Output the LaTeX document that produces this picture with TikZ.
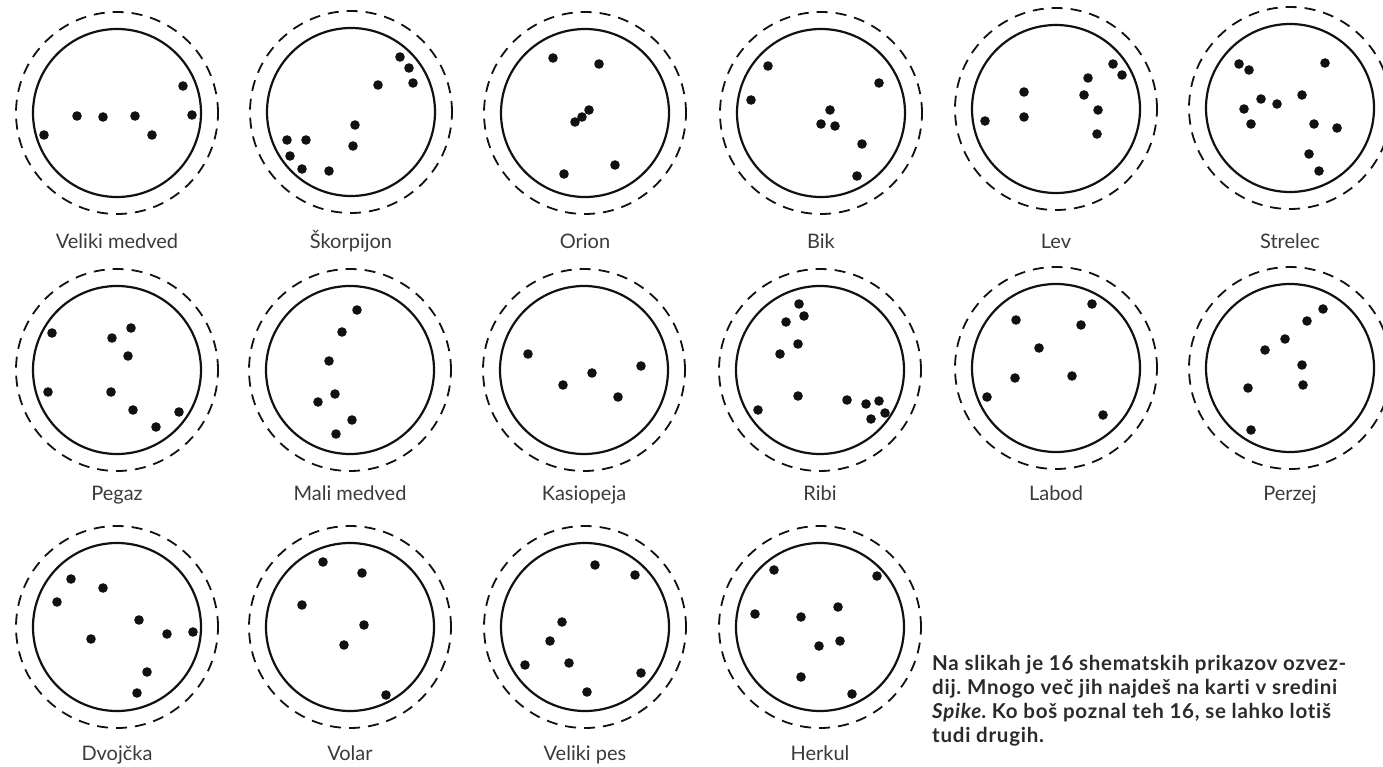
\documentclass[tikz,border=0pt]{standalone}
\usepackage{fontspec}
\setmainfont{Lato}
\newfontfamily\notefont[LetterSpace=3.6, Ligatures=NoCommon]{Lato}
\usepackage{tikz}
\usetikzlibrary{positioning}
\definecolor{inkblack}{HTML}{111111}
\definecolor{labelgrey}{HTML}{3a3a3a}
\definecolor{notegrey}{HTML}{2a2a2a}
\tikzset{
  ring/.style={circle, draw=inkblack, line width=2.2pt, minimum size=168pt,
               inner sep=0pt},
  halo/.style={circle, draw=inkblack, line width=1.8pt,
               dash pattern=on 11pt off 8pt, minimum size=202pt, inner sep=0pt},
  starname/.style={font=\fontsize{20}{24}\selectfont, text=labelgrey,
                   anchor=base, inner sep=0pt},
  stardot/.style={fill=inkblack},
  notetext/.style={font=\notefont\bfseries\fontsize{20.5}{24}\selectfont,
                   text=notegrey, align=left, anchor=north west, inner sep=0pt},
}
\def\dotr{4.8pt}
\frenchspacing

\begin{document}
\begin{tikzpicture}[x=1pt, y=-1pt]
  \useasboundingbox (0, 0) rectangle (1383, 767);
  \clip (0, 0) rectangle (1383, 767);

  % --- Row 1 ---
  \node[ring] (velmed) at (117, 113) {};
  \node[halo] at (velmed) {};
  \node[starname] (velmedl) at (117, 248) {Veliki medved};
  \foreach \x/\y in {44/135, 77/116, 103/117, 135/116, 152/135, 183/86, 192/115}
    \fill[stardot] (\x, \y) circle (\dotr);

  \node[ring] (skorp) at (351, 112) {};
  \node[halo] at (skorp) {};
  \node[starname] (skorpl) at (351, 248) {Škorpijon};
  \foreach \x/\y in {400/57, 409/68, 413/83, 378/85, 355/125, 353/146,
                     287/140, 306/140, 290/156, 302/169, 329/171}
    \fill[stardot] (\x, \y) circle (\dotr);

  \node[ring] (orion) at (585, 113) {};
  \node[halo] at (orion) {};
  \node[starname] (orionl) at (585, 248) {Orion};
  \foreach \x/\y in {553/58, 599/64, 589/110, 582/117, 575/122, 564/174, 615/165}
    \fill[stardot] (\x, \y) circle (\dotr);

  \node[ring] (bik) at (821, 113) {};
  \node[halo] at (bik) {};
  \node[starname] (bikl) at (821, 248) {Bik};
  \foreach \x/\y in {768/66, 751/100, 879/83, 830/110, 821/124, 835/126,
                     862/144, 857/176}
    \fill[stardot] (\x, \y) circle (\dotr);

  \node[ring] (lev) at (1056, 109) {};
  \node[halo] at (lev) {};
  \node[starname] (levl) at (1056, 248) {Lev};
  \foreach \x/\y in {1113/64, 1122/75, 1088/78, 1024/92, 1084/95, 1098/110,
                     1024/117, 985/121, 1097/134}
    \fill[stardot] (\x, \y) circle (\dotr);

  \node[ring] (strel) at (1290, 108) {};
  \node[halo] at (strel) {};
  \node[starname] (strell) at (1290, 248) {Strelec};
  \foreach \x/\y in {1239/64, 1249/70, 1325/63, 1302/95, 1261/99, 1277/104,
                     1244/109, 1251/124, 1314/124, 1337/128, 1309/154, 1319/171}
    \fill[stardot] (\x, \y) circle (\dotr);

  % --- Row 2 ---
  \node[ring] (pegaz) at (117, 370) {};
  \node[halo] at (pegaz) {};
  \node[starname] (pegazl) at (117, 500) {Pegaz};
  \foreach \x/\y in {52/333, 131/328, 112/338, 128/356, 48/392, 111/392,
                     133/410, 179/412, 156/427}
    \fill[stardot] (\x, \y) circle (\dotr);

  \node[ring] (malmed) at (350, 370) {};
  \node[halo] at (malmed) {};
  \node[starname] (malmedl) at (350, 500) {Mali medved};
  \foreach \x/\y in {357/310, 342/332, 329/361, 335/394, 318/402, 352/420, 336/434}
    \fill[stardot] (\x, \y) circle (\dotr);

  \node[ring] (kasio) at (584, 370) {};
  \node[halo] at (kasio) {};
  \node[starname] (kasiol) at (584, 500) {Kasiopeja};
  \foreach \x/\y in {528/354, 563/385, 592/373, 618/397, 641/366}
    \fill[stardot] (\x, \y) circle (\dotr);

  \node[ring] (ribi) at (820, 370) {};
  \node[halo] at (ribi) {};
  \node[starname] (ribil) at (820, 500) {Ribi};
  \foreach \x/\y in {799/304, 804/316, 786/322, 798/344, 780/354, 798/396,
                     758/410, 847/400, 866/404, 879/401, 885/413, 871/419}
    \fill[stardot] (\x, \y) circle (\dotr);

  \node[ring] (labod) at (1056, 368) {};
  \node[halo] at (labod) {};
  \node[starname] (labodl) at (1056, 500) {Labod};
  \foreach \x/\y in {1092/304, 1016/320, 1081/325, 1039/348, 1015/378,
                     1072/376, 987/397, 1103/415}
    \fill[stardot] (\x, \y) circle (\dotr);

  \node[ring] (perzej) at (1290, 368) {};
  \node[halo] at (perzej) {};
  \node[starname] (perzejl) at (1290, 500) {Perzej};
  \foreach \x/\y in {1323/309, 1307/321, 1285/339, 1265/350, 1302/365,
                     1303/385, 1248/388, 1251/430}
    \fill[stardot] (\x, \y) circle (\dotr);

  % --- Row 3 ---
  \node[ring] (dvoj) at (117, 627) {};
  \node[halo] at (dvoj) {};
  \node[starname] (dvojl) at (117, 760) {Dvojčka};
  \foreach \x/\y in {71/579, 103/588, 57/602, 139/620, 167/634, 193/632,
                     91/639, 147/672, 137/693}
    \fill[stardot] (\x, \y) circle (\dotr);

  \node[ring] (volar) at (350, 627) {};
  \node[halo] at (volar) {};
  \node[starname] (volarl) at (350, 760) {Volar};
  \foreach \x/\y in {323/562, 362/573, 302/605, 364/625, 344/645, 386/695}
    \fill[stardot] (\x, \y) circle (\dotr);

  \node[ring] (velpes) at (585, 627) {};
  \node[halo] at (velpes) {};
  \node[starname] (velpesl) at (585, 760) {Veliki pes};
  \foreach \x/\y in {595/565, 635/575, 562/622, 550/641, 569/663, 525/665,
                     641/673, 587/692}
    \fill[stardot] (\x, \y) circle (\dotr);

  \node[ring] (herkul) at (820, 627) {};
  \node[halo] at (herkul) {};
  \node[starname] (herkull) at (820, 760) {Herkul};
  \foreach \x/\y in {774/570, 877/576, 838/607, 755/614, 801/617, 840/641,
                     819/646, 801/677, 852/694}
    \fill[stardot] (\x, \y) circle (\dotr);

  % --- Note ---
  \node[notetext] (note) at (932, 655)
    {Na slikah je 16 shematskih prikazov ozvez-\\
     dij. Mnogo več jih najdeš na karti v sredini\\
     \textit{Spike}. Ko boš poznal teh 16, se lahko lotiš\\
     tudi drugih.};

\end{tikzpicture}
\end{document}
